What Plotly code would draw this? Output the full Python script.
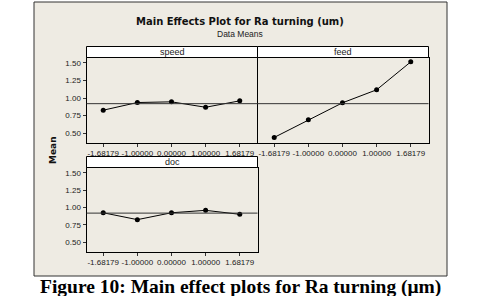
import plotly.graph_objects as go
from plotly.subplots import make_subplots

levels = ["-1.68179", "-1.00000", "0.00000", "1.00000", "1.68179"]
speed_means = [0.827, 0.936, 0.946, 0.869, 0.960]
feed_means = [0.440, 0.690, 0.932, 1.117, 1.514]
doc_means = [0.925, 0.826, 0.925, 0.960, 0.903]
grand_mean = 0.92
y_ticks = [0.50, 0.75, 1.00, 1.25, 1.50]
y_range = [0.368, 1.576]

W, H = 491, 296
def px(x): return x / W
def py(y): return 1 - y / H

fig = make_subplots(rows=2, cols=2)

panels = [("speed", speed_means, 1, 1), ("feed", feed_means, 1, 2), ("doc", doc_means, 2, 1)]
xdom = {1: [px(86.5), px(257.5)], 2: [px(257.5), px(428.5)]}
ydom = {1: [py(142.5), py(57.5)], 2: [py(251.5), py(167.5)]}
strip = {1: [py(57.5), py(46.5)], 2: [py(167.5), py(156.5)]}

font = dict(family="Liberation Sans, Arial", color="#222", size=8)
shapes = []
annotations = []

# outer beige frame
shapes.append(dict(type="rect", xref="paper", yref="paper", x0=px(34), x1=px(447), y0=py(276), y1=py(2),
                   fillcolor="#EEEBE3", line=dict(color="#333", width=1), layer="below"))

for i, (name, vals, r, c) in enumerate(panels):
    idx = "" if i == 0 else str(i + 1)
    fig.add_trace(go.Scatter(x=list(range(len(levels))), y=vals, mode="lines+markers",
                             line=dict(color="black", width=1), marker=dict(color="black", size=5),
                             showlegend=False), row=r, col=c)
    fig.update_xaxes(domain=xdom[c], range=[-0.49, 4.52], tickvals=list(range(5)), ticktext=levels,
                     ticks="outside", ticklen=3, tickcolor="#333", showgrid=False, zeroline=False,
                     showline=True, linecolor="black", linewidth=1, mirror=True,
                     tickfont=font, row=r, col=c)
    fig.update_yaxes(domain=ydom[r], range=y_range, tickvals=y_ticks,
                     ticktext=[f"{v:.2f}" for v in y_ticks],
                     ticks="outside" if c == 1 else "", ticklen=3, tickcolor="#333",
                     showticklabels=(c == 1), showgrid=False, zeroline=False,
                     showline=True, linecolor="black", linewidth=1,
                     mirror=(False if name == "speed" else True),
                     tickfont=font, row=r, col=c)
    shapes.append(dict(type="line", xref=f"x{idx} domain", yref=f"y{idx}", x0=0, x1=1,
                       y0=grand_mean, y1=grand_mean, line=dict(color="#333", width=1)))
    shapes.append(dict(type="rect", xref="paper", yref="paper", x0=xdom[c][0], x1=xdom[c][1],
                       y0=strip[r][0], y1=strip[r][1], fillcolor="white", line=dict(color="black", width=1)))
    annotations.append(dict(text=name, xref="paper", yref="paper", x=sum(xdom[c]) / 2,
                            y=sum(strip[r]) / 2, showarrow=False, font=dict(size=9, family="Liberation Sans, Arial", color="#222"),
                            xanchor="center", yanchor="middle"))

# hide empty 4th subplot
fig.update_xaxes(visible=False, row=2, col=2)
fig.update_yaxes(visible=False, row=2, col=2)

annotations += [
    dict(text="<b>Main Effects Plot for Ra turning (um)</b>", xref="paper", yref="paper",
         x=px(240), y=py(21), showarrow=False, xanchor="center", yanchor="middle",
         font=dict(size=10, family="DejaVu Sans", color="#111")),
    dict(text="Data Means", xref="paper", yref="paper", x=px(240), y=py(34), showarrow=False,
         xanchor="center", yanchor="middle",
         font=dict(size=8.5, family="Liberation Sans, Arial", color="#222")),
    dict(text="<b>Mean</b>", xref="paper", yref="paper", x=px(53), y=py(150), showarrow=False,
         xanchor="center", yanchor="middle",
         textangle=-90, font=dict(size=9, family="DejaVu Sans", color="#111")),
    dict(text="<b>Figure 10: Main effect plots for Ra turning (μm)</b>", xref="paper", yref="paper",
         x=px(240.5), y=py(286.5), showarrow=False, xanchor="center", yanchor="middle",
         font=dict(size=19.5, family="Liberation Serif, Times New Roman", color="black")),
]

fig.update_layout(width=W, height=H, margin=dict(l=0, r=0, t=0, b=0),
                  paper_bgcolor="white", plot_bgcolor="white",
                  shapes=shapes, annotations=annotations)

fig.write_html("out.html")
